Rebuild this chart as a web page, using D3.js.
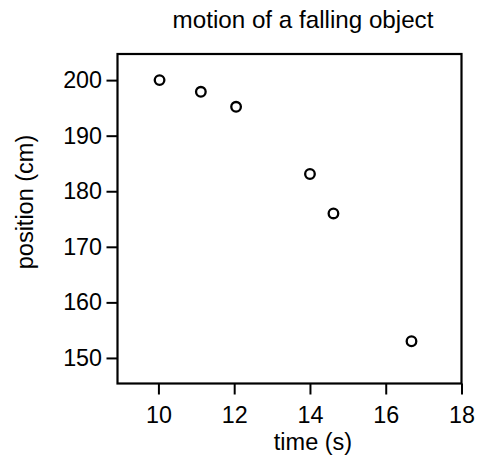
<!DOCTYPE html>
<html>
<head>
<meta charset="utf-8">
<script src="https://cdn.jsdelivr.net/npm/d3@7"></script>
<style>
	body { margin: 0; background: #fff; }
	text { font-family: "Liberation Sans", Arial, sans-serif; fill: #000; }
</style>
</head>
<body>
<script>
	// data
	const timeValues = [10.03, 11.12, 12.05, 14.0, 14.62, 16.68];
	const positionValues = [200, 197.9, 195.2, 183.1, 176.0, 153.0];
	const xTicks = [10, 12, 14, 16, 18];
	const yTicks = [150, 160, 170, 180, 190, 200];

	const Config = {
		svg: {Width: 477, Height: 457},
		plot: {left: 117.5, right: 461.5, top: 54, bottom: 383.5},
		tickFont: 23.3,
		labelFont: 23.5,
		titleFont: 24.2
	};

	var svg = d3.select('body')
		.append('svg')
		.attr('width', Config.svg.Width)
		.attr('height', Config.svg.Height);

	var scaleX = d3.scaleLinear().domain([8.92, 18]).range([Config.plot.left, Config.plot.right]);
	var scaleY = d3.scaleLinear().domain([145.4, 204.7]).range([Config.plot.bottom, Config.plot.top]);

	//axis x
	var gx = svg.append('g')
		.attr('transform', 'translate(0,' + Config.plot.bottom + ')')
		.call(d3.axisBottom(scaleX).tickValues(xTicks).tickSize(11).tickPadding(11.5).tickSizeOuter(0));
	//axis y
	var gy = svg.append('g')
		.attr('transform', 'translate(' + Config.plot.left + ',0)')
		.call(d3.axisLeft(scaleY).tickValues(yTicks).tickSize(11).tickPadding(4.5).tickSizeOuter(0));

	[gx, gy].forEach(function(g){
		g.select('.domain').remove();
		g.selectAll('line').attr('stroke', '#000').attr('stroke-width', 2);
		g.selectAll('text')
			.attr('font-size', Config.tickFont)
			.style('font-family', '"Liberation Sans", Arial, sans-serif');
	});

	// frame
	svg.append('rect')
		.attr('x', Config.plot.left)
		.attr('y', Config.plot.top)
		.attr('width', Config.plot.right - Config.plot.left)
		.attr('height', Config.plot.bottom - Config.plot.top)
		.attr('fill', 'none')
		.attr('stroke', '#000')
		.attr('stroke-width', 2.2);

	// points
	svg.selectAll('.pt')
		.data(timeValues)
		.enter().append('circle')
			.attr('class', 'pt')
			.attr('cx', function(d) { return scaleX(d); })
			.attr('cy', function(d, i) { return scaleY(positionValues[i]); })
			.attr('r', 4.8)
			.attr('fill', 'none')
			.attr('stroke', '#000')
			.attr('stroke-width', 2.3);

	// titles
	svg.append('text')
		.attr('x', 303).attr('y', 28)
		.attr('text-anchor', 'middle')
		.attr('font-size', Config.titleFont)
		.text('motion of a falling object');
	svg.append('text')
		.attr('x', 313).attr('y', 450)
		.attr('text-anchor', 'middle')
		.attr('font-size', Config.labelFont)
		.text('time (s)');
	svg.append('text')
		.attr('transform', 'translate(33,202) rotate(-90)')
		.attr('text-anchor', 'middle')
		.attr('font-size', Config.labelFont)
		.text('position (cm)');
</script>
</body>
</html>
